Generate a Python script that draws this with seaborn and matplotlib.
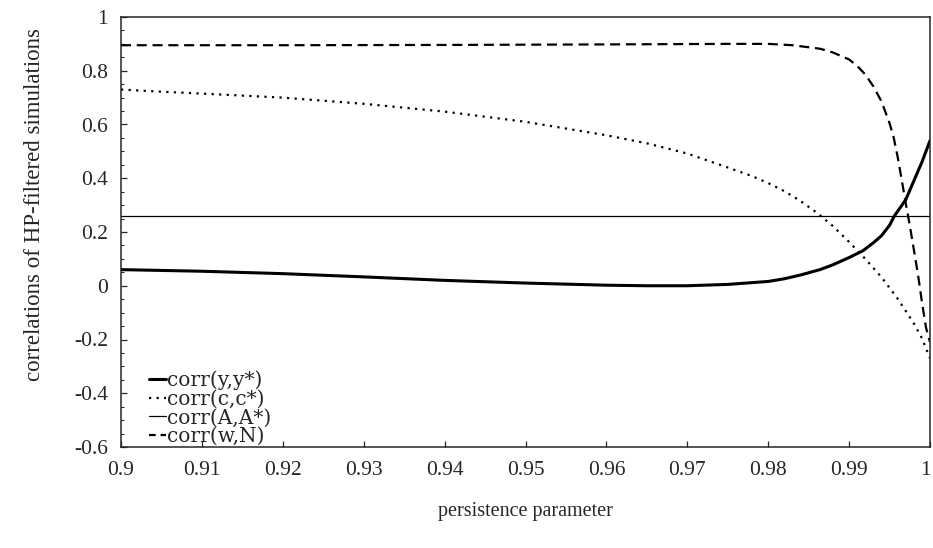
import numpy as np
import pandas as pd
import seaborn as sns
import matplotlib
matplotlib.use("Agg")
import matplotlib.pyplot as plt
from matplotlib.ticker import MultipleLocator, FuncFormatter
from matplotlib.lines import Line2D
from matplotlib.transforms import ScaledTranslation

sns.set_style("ticks")
plt.rcParams['font.family'] = ['Liberation Serif', 'DejaVu Serif']
plt.rcParams['axes.unicode_minus'] = False

# corr(y,y*) - thick solid
x_y = [0.9, 0.91, 0.92, 0.93, 0.94, 0.95, 0.96, 0.965, 0.97, 0.975, 0.98, 0.982,
       0.984, 0.9864, 0.988, 0.99, 0.9917, 0.993, 0.994, 0.995, 0.9956, 0.997,
       0.998, 0.999, 1.0]
corr_y = [0.06, 0.054, 0.045, 0.033, 0.02, 0.01, 0.002, 0.0, 0.0, 0.005, 0.016, 0.026,
          0.04, 0.06, 0.078, 0.105, 0.13, 0.16, 0.186, 0.225, 0.26, 0.32,
          0.39, 0.46, 0.54]

# corr(c,c*) - dotted
x_c = [0.9, 0.905, 0.91, 0.92, 0.93, 0.94, 0.95, 0.96, 0.965, 0.97, 0.975, 0.978,
       0.98, 0.982, 0.984, 0.986, 0.988, 0.99, 0.992, 0.994, 0.996, 0.998, 0.999, 1.0]
corr_c = [0.73, 0.722, 0.715, 0.70, 0.677, 0.648, 0.61, 0.56, 0.53, 0.492, 0.44, 0.408,
          0.382, 0.352, 0.315, 0.272, 0.222, 0.163, 0.10, 0.032, -0.048, -0.14, -0.195, -0.27]

# corr(A,A*) - thin solid, constant
x_a = [0.9, 1.0]
corr_a = [0.26, 0.26]

# corr(w,N) - dashed
x_w = [0.9, 0.92, 0.94, 0.96, 0.975, 0.98, 0.983, 0.9864, 0.988, 0.99, 0.991, 0.992,
       0.993, 0.994, 0.995, 0.9955, 0.996, 0.9965, 0.997, 0.9975, 0.998, 0.9985,
       0.999, 0.9995, 1.0]
corr_w = [0.895, 0.895, 0.896, 0.898, 0.9, 0.9, 0.895, 0.882, 0.868, 0.842, 0.818, 0.786,
          0.742, 0.686, 0.605, 0.553, 0.48, 0.395, 0.307, 0.225, 0.135, 0.045,
          -0.06, -0.155, -0.21]

labels = ['corr(y,y*)', 'corr(c,c*)', 'corr(A,A*)', 'corr(w,N)']

fig = plt.figure(figsize=(9.33, 5.48), dpi=100)
ax = fig.add_axes([121 / 933, 101 / 548, 809 / 933, 430 / 548])

dot_style = (0, (1, 2.4))
dash_style = (0, (4.5, 2.6))

sns.lineplot(x=x_y, y=corr_y, ax=ax, color='black', lw=2.2, estimator=None)
sns.lineplot(x=x_c, y=corr_c, ax=ax, color='black', lw=1.6, estimator=None)
ax.lines[-1].set_linestyle(dot_style)
sns.lineplot(x=x_a, y=corr_a, ax=ax, color='black', lw=0.9, estimator=None)
sns.lineplot(x=x_w, y=corr_w, ax=ax, color='black', lw=1.6, estimator=None)
ax.lines[-1].set_linestyle(dash_style)

ax.set_xlim(0.9, 1.0)
ax.set_ylim(-0.6, 1.0)
ax.xaxis.set_major_locator(MultipleLocator(0.01))
ax.yaxis.set_major_locator(MultipleLocator(0.2))
ax.yaxis.set_minor_locator(MultipleLocator(0.05))
ax.xaxis.set_major_formatter(FuncFormatter(lambda v, p: ('%.2f' % v).rstrip('0').rstrip('.')))
ax.yaxis.set_major_formatter(FuncFormatter(
    lambda v, p: ('%.1f' % v).rstrip('0').rstrip('.') if abs(v) > 1e-9 else '0'))
ax.tick_params(axis='both', which='major', direction='in', length=4.5, width=0.9,
               labelsize=15.5)
ax.tick_params(axis='x', which='major', pad=10)
ax.tick_params(axis='y', which='major', pad=9.5)
ax.tick_params(axis='y', which='minor', direction='in', length=2, width=0.8)
for s in ax.spines.values():
    s.set_linewidth(1.1)

ax.set_xlabel('persistence parameter', fontsize=14.5, labelpad=16)
ax.set_ylabel('correlations of HP-filtered simulations', fontsize=16.5)
ax.yaxis.set_label_coords(-0.094, 0.563)

# keep the "1" at the right end inside the figure
fig.canvas.draw()
for lbl in ax.get_xticklabels():
    if lbl.get_text() == '1':
        lbl.set_transform(lbl.get_transform() + ScaledTranslation(-3 / 72, 0, fig.dpi_scale_trans))

handles = [
    Line2D([], [], color='black', lw=2.2),
    Line2D([], [], color='black', lw=1.6, linestyle=dot_style),
    Line2D([], [], color='black', lw=0.9),
    Line2D([], [], color='black', lw=1.6, linestyle=(0, (3, 2.2))),
]
ax.legend(handles, labels, loc='lower left', bbox_to_anchor=(0.02, -0.026),
          frameon=False, prop={'family': 'DejaVu Serif', 'size': 14.5},
          handlelength=0.85, handletextpad=0.05, labelspacing=-0.02, borderpad=0.1)

fig.savefig('out.png', dpi=100)
